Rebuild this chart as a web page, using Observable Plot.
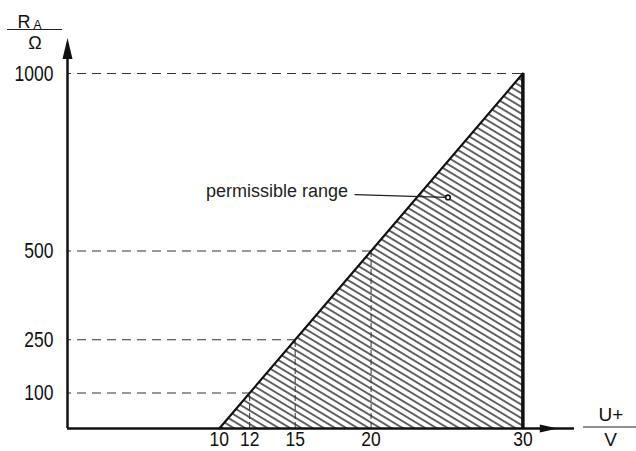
<!DOCTYPE html>
<html>
<head>
<meta charset="utf-8">
<script src="https://cdn.jsdelivr.net/npm/d3@7"></script>
<script src="https://cdn.jsdelivr.net/npm/@observablehq/plot@0.6"></script>
<style>
  html, body { margin: 0; padding: 0; background: #fff; }
  #chart svg { display: block; }
</style>
</head>
<body>
<div id="chart"></div>
<script>
// Data
const xTicks = [10, 12, 15, 20, 30];
const yTicks = [100, 250, 500, 1000];
const boundaryX = [10, 30];
const boundaryY = [0, 1000];
const guideX = [12, 15, 20, 30];
const guideY = [100, 250, 500, 1000];
const annotationText = ["permissible range"];
const leaderX = [18.94, 24.93];
const leaderY = [659, 651];

const boundary = boundaryX.map((x, i) => ({x, y: boundaryY[i]}));
const guides = guideX.map((x, i) => ({x, y: guideY[i]}));
const verticalGuides = guides.filter(d => d.x !== 30);
const leader = leaderX.map((x, i) => ({x, y: leaderY[i]}));

const tickFont = "'Liberation Sans', Arial, Helvetica, sans-serif";
const textFont = "'Liberation Sans', Arial, Helvetica, sans-serif";

// filled elongated arrowhead, tip at origin pointing up
const arrowHead = (w, h) => ({
  draw(ctx) {
    ctx.moveTo(0, 0);
    ctx.lineTo(w / 2, h);
    ctx.lineTo(-w / 2, h);
    ctx.closePath();
  }
});

const chart = Plot.plot({
  width: 636,
  height: 451,
  marginLeft: 67,
  marginRight: 62,
  marginTop: 37.5,
  marginBottom: 23,
  x: {domain: [0, 33.4]},
  y: {domain: [0, 1100]},
  style: {background: "#fff", overflow: "visible", color: "#111"},
  marks: [
    // hatched permissible region
    Plot.areaY(boundary, {x: "x", y: "y", fill: "url(#hatch)"}),
    // dashed guides
    Plot.ruleY(guides, {y: "y", x1: 0, x2: "x", stroke: "#333", strokeWidth: 1.2, strokeDasharray: "9,6", strokeDashoffset: -10}),
    Plot.ruleX(verticalGuides, {x: "x", y1: 0, y2: "y", stroke: "#333", strokeWidth: 1, strokeDasharray: "6,3"}),
    // boundary
    Plot.line(boundary, {x: "x", y: "y", stroke: "#111", strokeWidth: 2.2}),
    Plot.ruleX([30], {y1: 0, y2: 1000, stroke: "#111", strokeWidth: 3.5}),
    // axes lines
    Plot.ruleX([0], {y1: 0, y2: 1080, stroke: "#111", strokeWidth: 2.5}),
    Plot.ruleY([0], {x1: 0, x2: 33.4, stroke: "#111", strokeWidth: 2.5}),
    Plot.dot([{x: 0, y: 1100}], {x: "x", y: "y", symbol: arrowHead(10, 21), fill: "#111", stroke: "none"}),
    Plot.dot([{x: 32.3, y: 0}], {x: "x", y: "y", symbol: arrowHead(8, 18), rotate: 90, fill: "#111", stroke: "none"}),
    // tick labels
    Plot.axisY({ticks: yTicks, tickFormat: d3.format("d"), tickSize: 0, tickPadding: 14, fontSize: 17.5, fontFamily: tickFont, label: null}),
    Plot.axisX({ticks: xTicks, tickFormat: d3.format("d"), tickSize: 0, tickPadding: 3, fontSize: 17.5, fontFamily: tickFont, label: null}),
    // annotation
    Plot.text(annotationText, {x: 18.48, y: 667, text: d => d, textAnchor: "end", fontSize: 18, fontFamily: textFont, fill: "#222"}),
    Plot.line(leader, {x: "x", y: "y", stroke: "#222", strokeWidth: 1.3}),
    Plot.dot([leader[1]], {x: "x", y: "y", r: 2.3, fill: "#fff", stroke: "#111", strokeWidth: 1.6, dx: 2}),
    // axis titles
    Plot.text(["R"], {frameAnchor: "top-left", lineAnchor: "middle", text: d => d, textAnchor: "start", dx: -50, dy: -15.3, fontSize: 18, fontFamily: textFont}),
    Plot.text(["A"], {frameAnchor: "top-left", lineAnchor: "middle", text: d => d, textAnchor: "start", dx: -34, dy: -13.3, fontSize: 12, fontFamily: textFont}),
    Plot.text(["Ω"], {frameAnchor: "top-left", lineAnchor: "middle", text: d => d, textAnchor: "middle", dx: -32.5, dy: 5.5, fontSize: 18, fontFamily: textFont}),
    Plot.text(["U+"], {frameAnchor: "bottom-right", lineAnchor: "middle", text: d => d, textAnchor: "middle", dx: 36.5, dy: -14, fontSize: 19, fontFamily: textFont}),
    Plot.text(["V"], {frameAnchor: "bottom-right", lineAnchor: "middle", text: d => d, textAnchor: "middle", dx: 36, dy: 11, fontSize: 19, fontFamily: textFont})
  ]
});

// hatch pattern and fraction bars (decorations)
const svg = d3.select(chart);
const defs = svg.insert("defs", ":first-child");
const pat = defs.append("pattern")
  .attr("id", "hatch")
  .attr("patternUnits", "userSpaceOnUse")
  .attr("width", 10)
  .attr("height", 5.8)
  .attr("patternTransform", "rotate(31)");
pat.append("line")
  .attr("x1", 0).attr("x2", 10)
  .attr("y1", 2.9).attr("y2", 2.9)
  .attr("stroke", "#111").attr("stroke-width", 1.3);
svg.append("line").attr("x1", 7).attr("x2", 62).attr("y1", 29.5).attr("y2", 29.5).attr("stroke", "#222").attr("stroke-width", 1.2);
svg.append("line").attr("x1", 583).attr("x2", 636).attr("y1", 427).attr("y2", 427).attr("stroke", "#222").attr("stroke-width", 1.2);

// condensed look for tick labels: stretch vertically around their anchor
svg.selectAll('g[aria-label="y-axis tick label"] text').each(function() {
  const t = this.getAttribute("transform") || "";
  this.setAttribute("transform", t + " scale(1,1.3)");
});
svg.selectAll('g[aria-label="x-axis tick label"] text').each(function() {
  const t = this.getAttribute("transform") || "";
  this.setAttribute("transform", t + " scale(1,1.15)");
});

document.getElementById("chart").appendChild(chart);
</script>
</body>
</html>
